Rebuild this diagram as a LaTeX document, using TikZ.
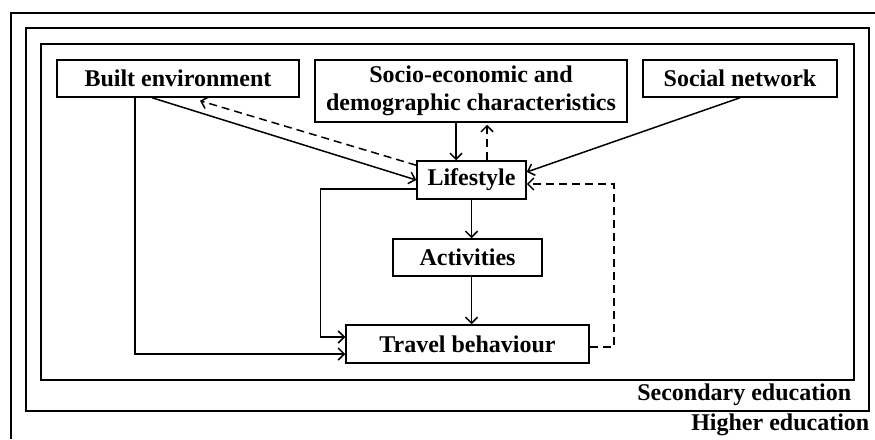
\documentclass[tikz,border=0pt]{standalone}
\usepackage{fontspec}
\setmainfont{Liberation Serif}
\usetikzlibrary{arrows.meta}

\begin{document}
\begin{tikzpicture}[x=1pt, y=-1pt, line width=1.5pt,
		>={Straight Barb[length=6pt,width=12pt]},
		box/.style={draw, inner sep=0pt, align=center,
			font=\fontsize{24}{28}\selectfont\bfseries},
		lbl/.style={anchor=east, inner sep=0pt,
			font=\fontsize{24}{28}\selectfont\bfseries},
		feedback/.style={->, dash pattern=on 8pt off 5pt}]
		\useasboundingbox (0,0) rectangle (875,439);

		% education frames
		\draw (11,439) -- (11,13) -- (875,13);
		\draw (26,28) rectangle (869,411);
		\draw (41,44) rectangle (854,380);
		\node[lbl] (SecEd) at (852,395) {Secondary education};
		\node[lbl] (HighEd) at (870,425) {Higher education};

		\node[box, minimum width=242, minimum height=37] (BE) at (178,78.5)  {Built environment};
		\node[box, minimum width=312, minimum height=62] (SE) at (471,91)    {Socio-economic and\\demographic characteristics};
		\node[box, minimum width=194, minimum height=37] (SN) at (740,78.5)  {Social network};
		\node[box, minimum width=109, minimum height=38] (LS) at (471.5,180) {Lifestyle};
		\node[box, minimum width=149, minimum height=37] (AC) at (467.5,257.5) {Activities};
		\node[box, minimum width=243, minimum height=38] (TB) at (467.5,344) {Travel behaviour};

		\draw[->] ([xshift=-26pt]BE.south) -- (LS.west);
		\draw[feedback] ([yshift=-5pt]LS.north west) -- ([xshift=22pt,yshift=-3pt]BE.south);
		\draw[->] ([xshift=-15pt]SE.south) -- ([xshift=-15pt]SE.south |- LS.north);
		\draw[feedback] ([xshift=15.5pt]LS.north) -- ([xshift=15.5pt,yshift=-2pt]LS.north |- SE.south);
		\draw[->] (SN.south) -- ([yshift=8pt]LS.east);
		\draw[->] (LS.south) -- (LS.south |- AC.north);
		\draw[->] (LS.south |- AC.south) -- (LS.south |- TB.north);
		\draw[->] ([xshift=-43pt]BE.south) |- ([yshift=-10pt]TB.west);
		\draw[->] ([yshift=-9pt]LS.west) -- ++(-96,0) |- ([yshift=7pt]TB.west);
		\draw[feedback] ([yshift=-3pt]TB.east) -- ++(24,0) |- ([yshift=-4pt]LS.east);
	\end{tikzpicture}
\end{document}
